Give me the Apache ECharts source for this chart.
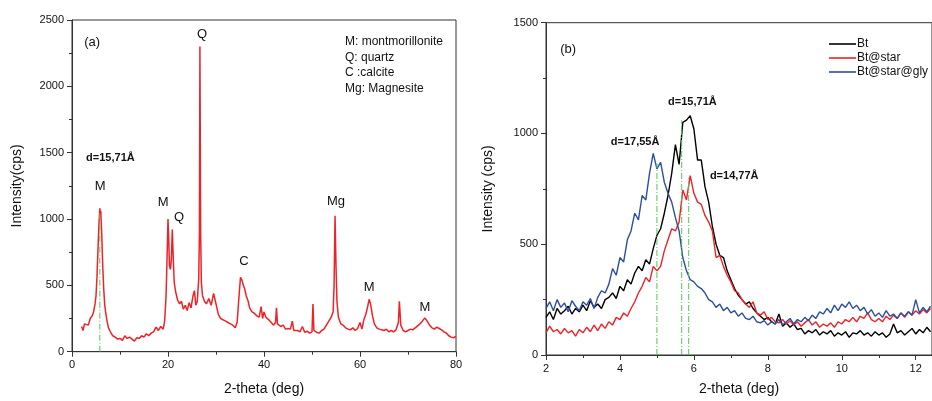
<!DOCTYPE html>
<html>
<head>
<meta charset="utf-8">
<script src="https://cdn.jsdelivr.net/npm/echarts@6/dist/echarts.min.js"></script>
<style>html,body{margin:0;padding:0;background:#fff}#c{width:932px;height:401px}</style>
</head>
<body>
<div id="c"></div>
<script>
// ---- (a) montmorillonite pattern ----
const leftX = [2.0,2.3,2.6,3.0,3.4,3.8,4.2,4.5,4.8,5.0,5.2,5.4,5.6,5.8,5.9,6.0,6.2,6.4,6.6,6.8,7.0,7.3,7.6,8.0,8.5,9.0,9.5,10,10.5,11,11.5,12,12.5,13,13.5,14,14.5,15,15.5,16,16.5,17,17.5,18,18.5,19,19.3,19.6,19.8,20.0,20.15,20.3,20.5,20.7,20.9,21.1,21.3,21.6,22.0,22.4,22.8,23.2,23.6,24,24.4,24.8,25.2,25.5,25.8,26.1,26.4,26.55,26.65,26.8,26.95,27.2,27.6,28,28.5,29,29.5,30,30.5,31,31.5,32,32.5,33,33.5,34,34.4,34.8,35.1,35.4,35.7,36,36.3,36.7,37,37.5,38,38.5,39,39.4,39.7,40,40.4,41,41.5,42,42.4,42.6,42.8,43.5,44,44.5,45,45.5,45.9,46.2,47,47.5,48,48.5,49,49.5,50,50.2,50.4,51,51.5,52,52.5,53,53.5,54,54.4,54.6,54.8,55.0,55.2,55.5,56,56.5,57,57.5,58,58.5,59,59.5,60,60.4,60.8,61.2,61.6,61.9,62.2,62.6,63,63.5,64,64.5,65,65.5,66,66.5,67,67.5,68,68.2,68.5,69,69.5,70,70.5,71,71.5,72,72.5,73,73.5,74,74.5,75,75.5,76,76.5,77,77.5,78,78.5,79,79.5,80];
const leftY = [190,160,210,220,200,250,270,300,360,420,560,760,950,1080,1040,1060,880,650,480,360,300,230,180,150,120,110,95,100,85,120,100,110,95,80,105,100,120,110,135,120,140,150,185,160,190,170,230,420,700,1000,850,650,620,700,920,700,520,450,390,360,380,320,350,310,370,330,420,460,350,380,550,900,2300,900,520,420,380,360,400,350,440,360,280,250,240,230,220,210,200,180,220,420,560,540,500,470,420,380,330,300,290,270,260,340,250,300,260,240,220,200,220,330,210,190,200,170,175,170,230,160,160,150,190,145,155,140,150,360,160,145,140,160,170,200,230,260,300,500,1025,650,380,260,210,200,180,170,165,180,160,175,220,170,240,280,340,395,360,270,210,180,170,165,160,170,150,160,150,165,220,380,200,160,150,160,170,165,180,195,210,230,255,230,200,180,170,185,175,165,150,140,120,110,105,115];

// ---- (b) low-angle patterns ----
const rightX = [2.0,2.1,2.2,2.3,2.4,2.5,2.6,2.7,2.8,2.9,3.0,3.1,3.2,3.3,3.4,3.5,3.6,3.7,3.8,3.9,4.0,4.1,4.2,4.3,4.4,4.5,4.6,4.7,4.8,4.9,5.0,5.1,5.2,5.3,5.4,5.5,5.6,5.7,5.8,5.9,6.0,6.1,6.2,6.3,6.4,6.5,6.6,6.7,6.8,6.9,7.0,7.1,7.2,7.3,7.4,7.5,7.6,7.7,7.8,7.9,8.0,8.1,8.2,8.3,8.4,8.5,8.6,8.7,8.8,8.9,9.0,9.1,9.2,9.3,9.4,9.5,9.6,9.7,9.8,9.9,10.0,10.1,10.2,10.3,10.4,10.5,10.6,10.7,10.8,10.9,11.0,11.1,11.2,11.3,11.4,11.5,11.6,11.7,11.8,11.9,12.0,12.1,12.2,12.3,12.4];
const btY = [170,195,160,210,185,200,220,185,210,195,225,200,245,215,230,210,250,260,280,255,310,290,340,320,370,400,380,430,410,480,540,570,640,720,820,950,860,1050,1060,1080,1020,880,880,760,690,580,500,450,440,380,340,300,270,250,230,240,210,190,175,160,170,150,140,185,130,145,125,140,115,120,95,110,100,115,90,105,95,110,85,100,90,105,80,100,95,110,90,100,85,105,90,100,80,95,140,100,110,90,105,120,95,115,100,125,105];
const starY = [100,130,105,115,95,120,100,110,85,115,100,125,105,135,110,140,120,150,135,170,160,190,175,210,240,280,310,350,330,400,380,400,470,520,570,560,600,745,700,810,730,690,680,630,600,560,440,450,400,360,330,290,280,250,230,215,240,190,180,195,160,170,150,145,160,140,155,135,150,130,145,160,135,150,125,140,130,145,125,150,140,160,150,170,150,175,165,190,160,150,165,150,175,160,180,165,190,170,195,180,200,185,205,190,210];
const glyY = [210,240,200,250,215,235,195,245,220,200,240,225,255,210,260,290,280,320,390,360,440,420,520,560,640,610,720,700,820,910,840,870,780,730,690,620,560,440,380,340,330,310,300,280,250,240,215,230,200,215,190,200,175,190,165,160,175,150,145,155,135,150,140,160,135,150,165,140,160,150,170,155,180,165,195,185,210,190,225,200,230,215,240,210,225,200,215,185,205,175,190,170,200,175,185,165,190,175,195,180,250,190,215,195,220];

const seriesNames = ['Bt','Bt@star','Bt@star@gly'];

// peak marker lines (x position, top intensity)
const leftRefX = [5.8], leftRefTop = [1050];
const rightRefX = [5.0, 5.67, 5.86], rightRefTop = [865, 1060, 800];

// text annotations in data coordinates
const leftNoteText = ['(a)','d=15,71Å','M','M','Q','Q','C','Mg','M','M'];
const leftNoteX    = [4.2, 8.0, 5.85, 19.0, 22.3, 27.1, 35.8, 55.0, 61.9, 73.5];
const leftNoteY    = [2334, 1460, 1248, 1128, 1015, 2394, 681, 1134, 487, 336];
const rightNoteText = ['(b)','d=15,71Å','d=17,55Å','d=14,77Å'];
const rightNoteX    = [2.6, 5.96, 4.41, 7.09];
const rightNoteY    = [1381, 1144, 960, 809];
const phaseKey = ['M: montmorillonite','Q: quartz','C :calcite','Mg: Magnesite'];

const FONT = '"Liberation Sans", Arial, sans-serif';
const TXT = '#111';
const zip = (xs, ys) => xs.map((x, i) => [x, ys[i]]);

function axisCommon() {
  return {
    axisLine: {show: true, lineStyle: {color: '#333', width: 1}},
    axisTick: {show: true, length: 5, lineStyle: {color: '#333'}},
    minorTick: {show: true, splitNumber: 2, length: 3, lineStyle: {color: '#333'}},
    splitLine: {show: false},
    axisLabel: {color: TXT, fontSize: 11, fontFamily: FONT, formatter: v => String(v)},
    nameTextStyle: {color: TXT, fontSize: 14, fontFamily: FONT},
    nameLocation: 'middle'
  };
}

function refLines(xs, tops, xi, yi) {
  return xs.map((x, i) => ({
    type: 'line', xAxisIndex: xi, yAxisIndex: yi, silent: true, symbol: 'none',
    data: [[x, 0], [x, tops[i]]],
    lineStyle: {color: '#55c455', width: 1, type: [6, 2, 1, 2]},
    z: 5
  }));
}

function notes(texts, xs, ys, xi, yi) {
  return {
    type: 'scatter', xAxisIndex: xi, yAxisIndex: yi, silent: true,
    symbolSize: 0, itemStyle: {color: TXT, opacity: 1},
    data: texts.map((t, i) => ({
      name: t, value: [xs[i], ys[i]],
      label: t.startsWith('d=')
        ? {fontFamily: FONT, fontSize: 11, fontWeight: 'bold'}
        : {fontFamily: FONT, fontSize: 13}
    })),
    label: {show: true, position: 'inside', color: TXT, opacity: 1, textBorderWidth: 0, formatter: '{b}'},
    z: 10
  };
}

const chart = echarts.init(document.getElementById('c'), null, {renderer: 'canvas'});

const option = {
  animation: false,
  backgroundColor: '#fff',
  grid: [
    {left: 72, top: 20, width: 384, height: 331.7, show: true, borderColor: '#333', borderWidth: 1, backgroundColor: 'transparent'},
    {left: 546, top: 22.7, width: 387, height: 333, show: true, borderColor: '#333', borderWidth: 1, backgroundColor: 'transparent'}
  ],
  xAxis: [
    Object.assign(axisCommon(), {type: 'value', gridIndex: 0, min: 0, max: 80, interval: 20, name: '2-theta (deg)', nameGap: 30}),
    Object.assign(axisCommon(), {type: 'value', gridIndex: 1, min: 2, max: 12.44, interval: 2, name: '2-theta (deg)', nameGap: 27,
      axisLabel: {color: TXT, fontSize: 11, fontFamily: FONT, showMaxLabel: false,
        formatter: v => (Math.abs(v - Math.round(v)) < 1e-6 ? String(Math.round(v)) : '')}})
  ],
  yAxis: [
    Object.assign(axisCommon(), {type: 'value', gridIndex: 0, min: 0, max: 2500, interval: 500, name: 'Intensity(cps)', nameGap: 48}),
    Object.assign(axisCommon(), {type: 'value', gridIndex: 1, min: 0, max: 1500, interval: 500, name: 'Intensity (cps)', nameGap: 51})
  ],
  legend: {
    data: seriesNames, orient: 'vertical', left: 829, top: 38, itemGap: 2, padding: 0,
    icon: 'rect', itemWidth: 27, itemHeight: 1.6,
    textStyle: {color: TXT, fontSize: 12, fontFamily: FONT, padding: [0, 0, 0, -4]},
    selectedMode: false
  },
  graphic: [{
    type: 'text', left: 345, top: 34,
    style: {text: phaseKey.join('\n'), fill: TXT, font: '12px ' + FONT, lineHeight: 15.6}
  }],
  series: [
    {type: 'line', name: 'XRD', xAxisIndex: 0, yAxisIndex: 0, data: zip(leftX, leftY), symbol: 'none',
      lineStyle: {color: '#ee2229', width: 1.5}, z: 3},
    ...refLines(leftRefX, leftRefTop, 0, 0),
    {type: 'line', name: seriesNames[0], xAxisIndex: 1, yAxisIndex: 1, data: zip(rightX, btY), symbol: 'none',
      itemStyle: {color: '#000'}, lineStyle: {color: '#000', width: 1.4}, z: 3},
    {type: 'line', name: seriesNames[1], xAxisIndex: 1, yAxisIndex: 1, data: zip(rightX, starY), symbol: 'none',
      itemStyle: {color: '#ee2229'}, lineStyle: {color: '#ee2229', width: 1.4}, z: 3},
    {type: 'line', name: seriesNames[2], xAxisIndex: 1, yAxisIndex: 1, data: zip(rightX, glyY), symbol: 'none',
      itemStyle: {color: '#2b4ea3'}, lineStyle: {color: '#2b4ea3', width: 1.4}, z: 3},
    ...refLines(rightRefX, rightRefTop, 1, 1),
    notes(leftNoteText, leftNoteX, leftNoteY, 0, 0),
    notes(rightNoteText, rightNoteX, rightNoteY, 1, 1)
  ]
};
chart.setOption(option);
</script>
</body>
</html>
